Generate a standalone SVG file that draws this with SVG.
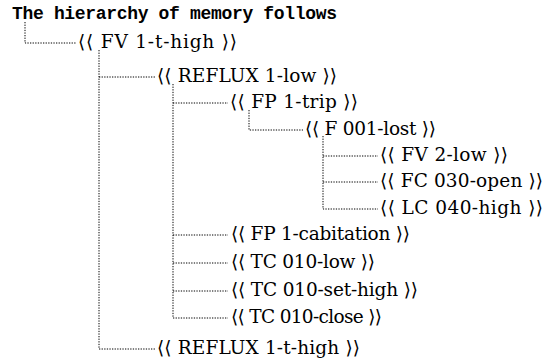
<svg xmlns="http://www.w3.org/2000/svg" width="544" height="358" viewBox="0 0 544 358">
<style>
.t{font-family:'DejaVu Serif','Liberation Serif',serif;font-size:18.5px;fill:#000;}
.title{font-family:'Liberation Mono','DejaVu Sans Mono',monospace;font-size:18px;font-weight:bold;fill:#000;}
.c{fill:none;stroke:#000;stroke-width:1;stroke-dasharray:1.3 1.3;}
</style>
<rect width="544" height="358" fill="#fff"/>
<text class="title" x="12" y="19" textLength="325" lengthAdjust="spacing">The hierarchy of memory follows</text>
<g id="connectors">
<path class="c" d="M25 22V43H76"/>
<path class="c" d="M99 50V349H155M99 77H155"/>
<path class="c" d="M173 84V318H228M173 103H228M173 235H228M173 263H228M173 291H228"/>
<path class="c" d="M249 110V130H303"/>
<path class="c" d="M323 136V209H378M323 156H378M323 182H378"/>
</g>
<g id="n1"><text class="t" x="78" y="48" textLength="159" lengthAdjust="spacing">⟨⟨ FV 1-t-high ⟩⟩</text></g>
<g id="n2"><text class="t" x="157" y="82" textLength="180" lengthAdjust="spacing">⟨⟨ REFLUX 1-low ⟩⟩</text></g>
<g id="n3"><text class="t" x="230" y="108" textLength="128" lengthAdjust="spacing">⟨⟨ FP 1-trip ⟩⟩</text></g>
<g id="n4"><text class="t" x="305" y="135" textLength="131" lengthAdjust="spacing">⟨⟨ F 001-lost ⟩⟩</text></g>
<g id="n5"><text class="t" x="380" y="161" textLength="128" lengthAdjust="spacing">⟨⟨ FV 2-low ⟩⟩</text></g>
<g id="n6"><text class="t" x="380" y="187" textLength="163" lengthAdjust="spacing">⟨⟨ FC 030-open ⟩⟩</text></g>
<g id="n7"><text class="t" x="380" y="214" textLength="163" lengthAdjust="spacing">⟨⟨ LC 040-high ⟩⟩</text></g>
<g id="n8"><text class="t" x="231" y="240" textLength="179" lengthAdjust="spacing">⟨⟨ FP 1-cabitation ⟩⟩</text></g>
<g id="n9"><text class="t" x="231" y="268" textLength="144" lengthAdjust="spacing">⟨⟨ TC 010-low ⟩⟩</text></g>
<g id="n10"><text class="t" x="231" y="296" textLength="187" lengthAdjust="spacing">⟨⟨ TC 010-set-high ⟩⟩</text></g>
<g id="n11"><text class="t" x="231" y="323" textLength="151" lengthAdjust="spacing">⟨⟨ TC 010-close ⟩⟩</text></g>
<g id="n12"><text class="t" x="157" y="354" textLength="203" lengthAdjust="spacing">⟨⟨ REFLUX 1-t-high ⟩⟩</text></g>
</svg>
